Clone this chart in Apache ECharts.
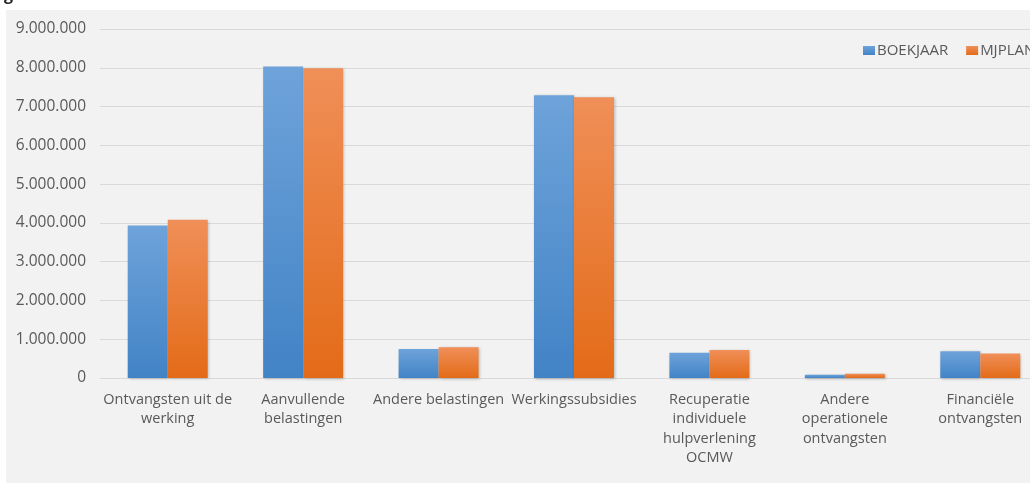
<!DOCTYPE html>
<html>
<head>
<meta charset="utf-8">
<script src="https://cdn.jsdelivr.net/npm/echarts@6/dist/echarts.min.js"></script>
<style>
    html, body { margin: 0; padding: 0; background: #ffffff; overflow: hidden; }
    /* the original chart runs past the right edge of the picture, so draw wider and let it clip */
    #chart { width: 1048px; height: 485px; }
</style>
</head>
<body>
<div id="chart"></div>
<script>
const categories = [
    "Ontvangsten uit de\nwerking",
    "Aanvullende\nbelastingen",
    "Andere belastingen",
    "Werkingssubsidies",
    "Recuperatie\nindividuele\nhulpverlening\nOCMW",
    "Andere\noperationele\nontvangsten",
    "Financiële\nontvangsten"
];
const boekjaar = [3930000, 8030000, 750000, 7290000, 650000, 85000, 690000];
const mjplan = [4080000, 7990000, 790000, 7240000, 720000, 110000, 630000];
const yTicks = [0, 1000000, 2000000, 3000000, 4000000, 5000000, 6000000, 7000000, 8000000, 9000000];

const FONT = '"Open Sans", sans-serif';
const TEXT_COLOR = "#595959";

function formatNl(v) {
    return String(v).replace(/\B(?=(\d{3})+(?!\d))/g, ".");
}

function gradient(top, bottom) {
    return new echarts.graphic.LinearGradient(0, 0, 0, 1, [
        { offset: 0, color: top },
        { offset: 1, color: bottom }
    ]);
}

const chart = echarts.init(document.getElementById("chart"));

chart.setOption({
    backgroundColor: "#ffffff",
    animation: false,
    textStyle: { fontFamily: FONT },
    graphic: [
        {
            type: "rect",
            left: 6,
            top: 10,
            shape: { width: 1050, height: 473 },
            style: { fill: "#f2f2f2" },
            z: -10
        },
        {
            type: "text",
            left: 4,
            top: -13,
            style: { text: "g", fill: "#222222", font: "bold 16px " + FONT }
        }
    ],
    legend: {
        left: 858,
        top: 38,
        width: 300,
        itemWidth: 12,
        itemHeight: 9,
        itemGap: 18,
        icon: "rect",
        data: ["BOEKJAAR", "MJPLAN"],
        textStyle: { fontFamily: FONT, fontSize: 15, color: TEXT_COLOR, padding: [0, 0, 0, -3] }
    },
    grid: {
        left: 100,
        top: 29,
        right: 0,
        bottom: 107
    },
    xAxis: {
        type: "category",
        data: categories,
        axisTick: { show: false },
        axisLine: { lineStyle: { color: "#d9d9d9", width: 1 } },
        axisLabel: {
            interval: 0,
            margin: 12,
            fontFamily: FONT,
            fontSize: 14.5,
            lineHeight: 19.5,
            color: TEXT_COLOR
        }
    },
    yAxis: {
        type: "value",
        min: yTicks[0],
        max: yTicks[yTicks.length - 1],
        interval: yTicks[1] - yTicks[0],
        axisLine: { show: false },
        axisTick: { show: false },
        axisLabel: {
            margin: 14,
            fontFamily: FONT,
            fontSize: 15.5,
            color: TEXT_COLOR,
            formatter: v => formatNl(v)
        },
        splitLine: { lineStyle: { color: "#d9d9d9", width: 1 } }
    },
    series: [
        {
            name: "BOEKJAAR",
            type: "bar",
            data: boekjaar,
            barWidth: 40,
            barGap: "0%",
            itemStyle: {
                color: gradient("#6ea3da", "#4283c6"),
                shadowBlur: 3,
                shadowOffsetX: 1,
                shadowOffsetY: 1,
                shadowColor: "rgba(0,0,0,0.25)"
            }
        },
        {
            name: "MJPLAN",
            type: "bar",
            data: mjplan,
            barWidth: 40,
            itemStyle: {
                color: gradient("#f08f58", "#e36b18"),
                shadowBlur: 3,
                shadowOffsetX: 1,
                shadowOffsetY: 1,
                shadowColor: "rgba(0,0,0,0.25)"
            }
        }
    ]
});
</script>
</body>
</html>
